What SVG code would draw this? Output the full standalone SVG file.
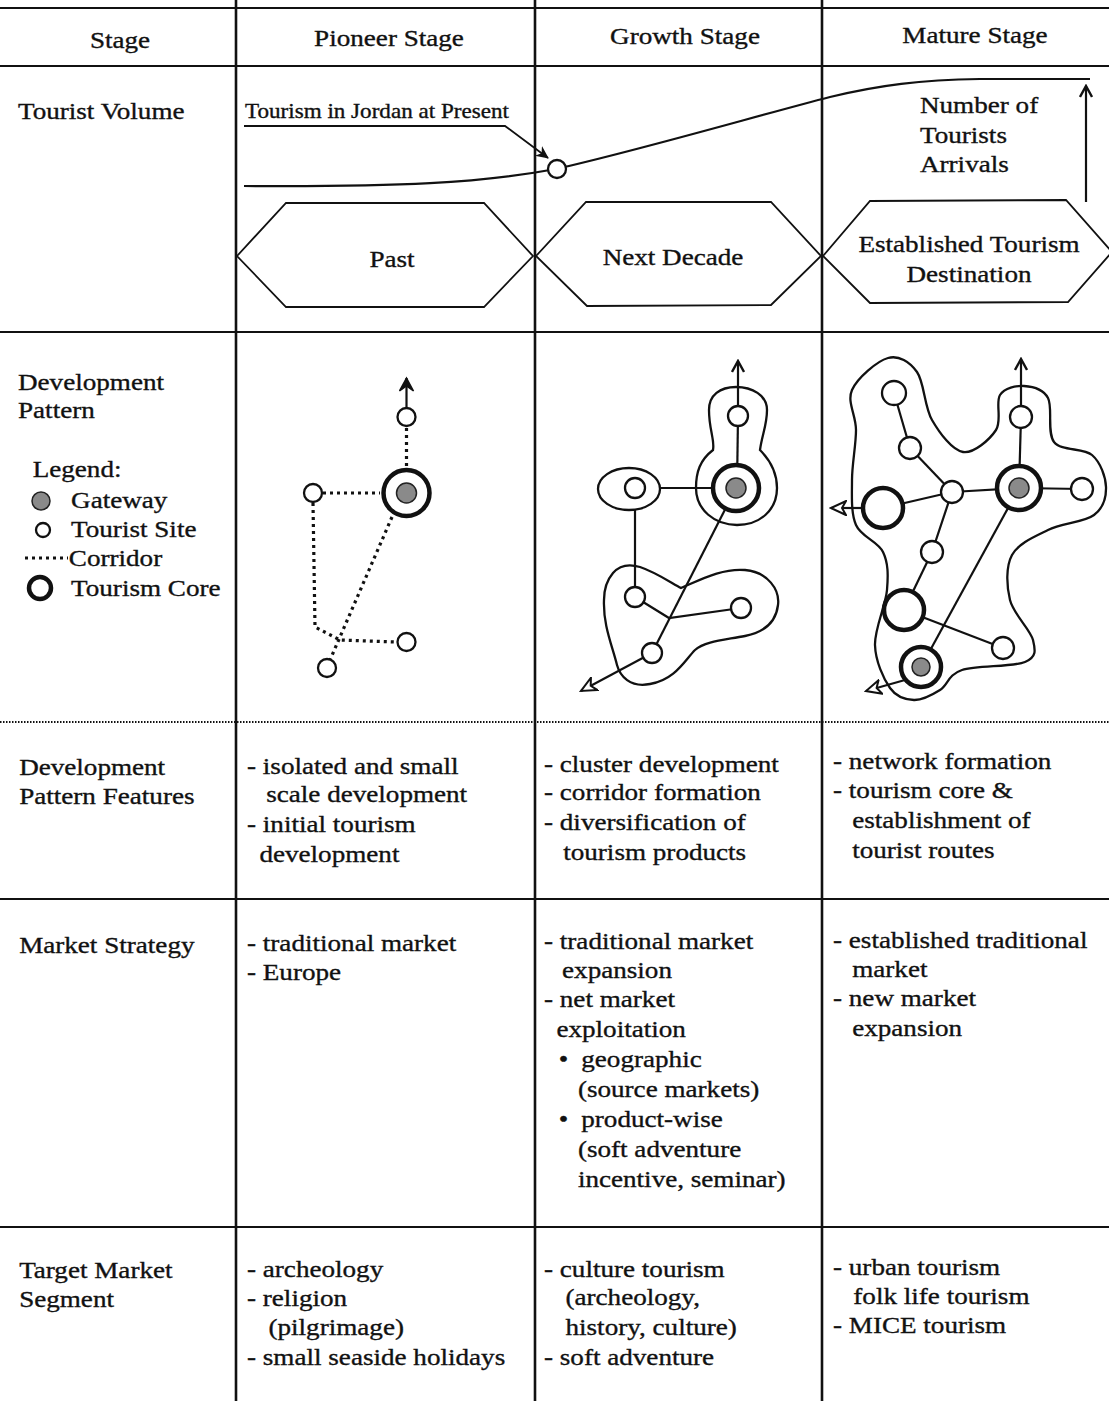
<svg xmlns="http://www.w3.org/2000/svg" width="1109" height="1401" viewBox="0 0 1109 1401">
<style>
text{font-family:"Liberation Serif","Times New Roman",serif;font-size:24px;fill:#111;stroke:#111;stroke-width:0.35}
.c{text-anchor:middle}
.rule{stroke:#111;stroke-width:1.8;fill:none}
.col{stroke:#111;stroke-width:2.6;fill:none}
.ln{stroke:#111;stroke-width:2.2;fill:none}
.thin{stroke:#111;stroke-width:1.8;fill:none}
.dot{stroke:#111;stroke-width:3.2;stroke-dasharray:3,4;fill:none}
.site{fill:#fff;stroke:#111;stroke-width:2.3}
.core{fill:#fff;stroke:#111;stroke-width:4.5}
.gate{fill:#8a8a8a;stroke:#222;stroke-width:1.5}
.blob{fill:none;stroke:#111;stroke-width:2.3}
.hex{fill:none;stroke:#111;stroke-width:1.8}
</style>
<defs>
<marker id="chev" viewBox="0 0 14 14" refX="12" refY="7" markerWidth="14" markerHeight="14" orient="auto" markerUnits="userSpaceOnUse"><path d="M1,1 L12,7 L1,13" fill="none" stroke="#111" stroke-width="2.4"/></marker>
<marker id="chevb" viewBox="0 0 16 16" refX="14" refY="8" markerWidth="16" markerHeight="16" orient="auto" markerUnits="userSpaceOnUse"><path d="M1,1 L14,8 L1,15 L6,8 Z" fill="#111" stroke="#111" stroke-width="1.5"/></marker>
<marker id="tri" viewBox="0 0 18 16" refX="16" refY="8" markerWidth="18" markerHeight="16" orient="auto" markerUnits="userSpaceOnUse"><path d="M1,1 L16,8 L1,15 L5,8 Z" fill="#fff" stroke="#111" stroke-width="2"/></marker>
<marker id="fill" viewBox="0 0 14 14" refX="12" refY="7" markerWidth="14" markerHeight="14" orient="auto" markerUnits="userSpaceOnUse"><path d="M0,1 L13,7 L0,13 L4,7 Z" fill="#111"/></marker>
</defs>
<rect width="1109" height="1401" fill="#fff"/>

<g id="grid">
<line class="rule" x1="0" y1="8" x2="1109" y2="8"/>
<line class="rule" x1="0" y1="66" x2="1109" y2="66"/>
<line class="rule" x1="0" y1="332" x2="1109" y2="332"/>
<line class="rule" x1="0" y1="722" x2="1109" y2="722" stroke-dasharray="1.5,1.5"/>
<line class="rule" x1="0" y1="899" x2="1109" y2="899"/>
<line class="rule" x1="0" y1="1227" x2="1109" y2="1227"/>
<line class="col" x1="236" y1="0" x2="236" y2="1401"/>
<line class="col" x1="535" y1="0" x2="535" y2="1401"/>
<line class="col" x1="822" y1="0" x2="822" y2="1401"/>
</g>

<g id="header">
<text class="c" transform="translate(120,48) scale(1.13,1)">Stage</text>
<text class="c" transform="translate(389,46) scale(1.13,1)">Pioneer Stage</text>
<text class="c" transform="translate(685,44) scale(1.13,1)">Growth Stage</text>
<text class="c" transform="translate(975,43) scale(1.13,1)">Mature Stage</text>
</g>

<g id="row-labels" transform="translate(18,0) scale(1.13,1)">
<text x="0" y="119">Tourist Volume</text>
<text x="0" y="390">Development</text>
<text x="0" y="418">Pattern</text>
<text x="13" y="477">Legend:</text>
<text x="47" y="508">Gateway</text>
<text x="47" y="537">Tourist Site</text>
<text x="45" y="566">Corridor</text>
<text x="47" y="596">Tourism Core</text>
<text x="1" y="775">Development</text>
<text x="1" y="804">Pattern Features</text>
<text x="1" y="953">Market Strategy</text>
<text x="1" y="1278">Target Market</text>
<text x="1" y="1307">Segment</text>
</g>

<g id="legend">
<circle class="gate" cx="41" cy="501" r="9" stroke-width="2.5"/>
<circle class="site" cx="43" cy="530" r="7"/>
<line class="dot" x1="25" y1="558" x2="68" y2="558" stroke-width="2.5" stroke-dasharray="2.5,3.5"/>
<circle class="core" cx="40" cy="588" r="11"/>
</g>

<g id="tourist-volume">
<path class="ln" d="M244,186 C400,187 480,183 556,169 C640,150 760,115 830,97 C880,85 920,80 980,79 L1090,79"/>
<path class="thin" d="M244,126 L505,126 L548,158" marker-end="url(#fill)"/>
<circle class="site" cx="557" cy="169" r="9"/>
<text transform="translate(245,118) scale(1.1,1)" style="font-size:21px">Tourism in Jordan at Present</text>
<text x="920" y="113" transform="translate(920,0) scale(1.13,1) translate(-920,0)">Number of</text>
<text x="920" y="143" transform="translate(920,0) scale(1.13,1) translate(-920,0)">Tourists</text>
<text x="920" y="172" transform="translate(920,0) scale(1.13,1) translate(-920,0)">Arrivals</text>
<line class="ln" x1="1086" y1="202" x2="1086" y2="86" marker-end="url(#chev)"/>
</g>

<g id="phase-past">
<polygon class="hex" points="237,256 286,203 484,203 533,256 484,307 286,307"/>
<text class="c" transform="translate(392,267) scale(1.13,1)">Past</text>
</g>
<g id="phase-next">
<polygon class="hex" points="536,256 586,202 771,202 821,256 771,305 587,306"/>
<text class="c" transform="translate(673,265) scale(1.13,1)">Next Decade</text>
</g>
<g id="phase-established">
<polygon class="hex" points="823,256 870,201 1066,200 1112,252 1068,302 870,303"/>
<text class="c" transform="translate(969,252) scale(1.13,1)">Established Tourism</text>
<text class="c" transform="translate(969,282) scale(1.13,1)">Destination</text>
</g>

<g id="pattern-pioneer">
<g id="pioneer-connectors">
<line class="ln" x1="406.5" y1="407" x2="406.5" y2="378" stroke-width="2.6" marker-end="url(#chevb)"/>
<line class="dot" x1="406.5" y1="428" x2="406.5" y2="466"/>
<line class="dot" x1="323" y1="493" x2="380" y2="493"/>
<polyline class="dot" points="313,503 315,627 340,640 396,642"/>
<line class="dot" x1="392" y1="517" x2="330" y2="660"/>
</g>
<circle class="site" cx="406.5" cy="417" r="9"/>
<circle class="site" cx="313" cy="493" r="9"/>
<circle class="site" cx="406.5" cy="642" r="9"/>
<circle class="site" cx="327" cy="668" r="9"/>
<circle class="core" cx="406.5" cy="493" r="23"/>
<circle class="gate" cx="406.5" cy="493" r="10"/>
</g>

<g id="pattern-growth">
<path class="blob" d="M736,387 C720,387 709,395 709,410 C709,430 715,440 713,450 C700,460 696,472 696,488 C696,510 715,525 737,525 C760,525 777,510 777,488 C777,470 768,458 760,450 C762,435 767,425 767,410 C767,395 752,387 736,387 Z"/>
<ellipse class="blob" cx="629" cy="489" rx="31" ry="21"/>
<path class="blob" d="M613,573 C620,565 630,564 640,567 C655,572 670,582 681,588 C700,580 722,568 745,570 C768,572 780,590 778,605 C776,622 765,632 745,636 C725,640 705,641 695,650 C685,660 675,680 650,684 C630,688 620,676 617,665 C612,645 603,625 604,600 C604,588 607,580 613,573 Z"/>
<g id="growth-connectors">
<line class="ln" x1="738" y1="406" x2="738" y2="361" marker-end="url(#chev)"/>
<line class="ln" x1="738" y1="416" x2="737" y2="488"/>
<line class="ln" x1="661" y1="488" x2="736" y2="488"/>
<line class="ln" x1="635" y1="510" x2="635" y2="597"/>
<polyline class="ln" points="635,597 669,618 741,608"/>
<line class="ln" x1="736" y1="488" x2="652" y2="653" stroke-width="3"/>
<line class="ln" x1="652" y1="653" x2="581" y2="691" marker-end="url(#tri)"/>
</g>
<circle class="site" cx="738" cy="416" r="10"/>
<circle class="core" cx="736" cy="488" r="23"/>
<circle class="gate" cx="736" cy="488" r="10"/>
<circle class="site" cx="635" cy="488" r="10"/>
<circle class="site" cx="635" cy="597" r="10"/>
<circle class="site" cx="741" cy="608" r="10"/>
<circle class="site" cx="652" cy="653" r="10"/>
</g>

<g id="pattern-mature">
<path class="blob" d="M852,390 C857.3,378 877.2,361 888,358 C898.8,355 909.7,361.7 917,372 C924.3,382.3 924.3,406.7 932,420 C939.7,433.3 952.3,450.3 963,452 C973.7,453.7 989.8,439.5 996,430 C1002.2,420.5 995.3,402.3 1000,395 C1004.7,387.7 1016,385.5 1024,386 C1032,386.5 1043,388.7 1048,398 C1053,407.3 1046.7,432.5 1054,442 C1061.3,451.5 1083.3,447.5 1092,455 C1100.7,462.5 1105.7,477 1106,487 C1106.3,497 1103.7,507.8 1094,515 C1084.3,522.2 1061.7,523.3 1048,530 C1034.3,536.7 1018.3,543.3 1012,555 C1005.7,566.7 1006.5,585.8 1010,600 C1013.5,614.2 1030.5,629.7 1033,640 C1035.5,650.3 1036.8,657 1025,662 C1013.2,667 976.2,665.3 962,670 C947.8,674.7 948,685 940,690 C932,695 922.3,700.3 914,700 C905.7,699.7 896.5,697.2 890,688 C883.5,678.8 875.5,661.3 875,645 C874.5,628.7 885.7,605.5 887,590 C888.3,574.5 888.2,562.8 883,552 C877.8,541.2 861.2,537 856,525 C850.8,513 852,495.8 852,480 C852,464.2 856,445 856,430 C856,415 846.7,402 852,390 Z"/>
<g id="mature-connectors">
<line class="ln" x1="1021" y1="406" x2="1021" y2="359" marker-end="url(#chev)"/>
<line class="ln" x1="1021" y1="417" x2="1019" y2="488"/>
<line class="ln" x1="1019" y1="488" x2="1082" y2="489"/>
<line class="ln" x1="894" y1="393" x2="910" y2="448"/>
<line class="ln" x1="910" y1="448" x2="952" y2="492"/>
<line class="ln" x1="952" y1="492" x2="1019" y2="488"/>
<line class="ln" x1="952" y1="492" x2="883" y2="508"/>
<line class="ln" x1="952" y1="492" x2="932" y2="552"/>
<line class="ln" x1="932" y1="552" x2="904" y2="610"/>
<line class="ln" x1="904" y1="610" x2="1003" y2="648"/>
<line class="ln" x1="1019" y1="488" x2="921" y2="667" stroke-width="3"/>
<line class="ln" x1="862" y1="508" x2="831" y2="508" marker-end="url(#tri)"/>
<line class="ln" x1="905" y1="680" x2="866" y2="691" marker-end="url(#tri)"/>
</g>
<circle class="site" cx="894" cy="393" r="12"/>
<circle class="site" cx="910" cy="448" r="11"/>
<circle class="site" cx="952" cy="492" r="11"/>
<circle class="site" cx="1021" cy="417" r="11"/>
<circle class="site" cx="1082" cy="489" r="11"/>
<circle class="site" cx="932" cy="552" r="11"/>
<circle class="site" cx="1003" cy="648" r="11"/>
<circle class="core" cx="883" cy="508" r="20"/>
<circle class="core" cx="904" cy="610" r="20"/>
<circle class="core" cx="1019" cy="488" r="22"/>
<circle class="gate" cx="1019" cy="488" r="10"/>
<circle class="core" cx="921" cy="667" r="20"/>
<circle class="gate" cx="921" cy="667" r="9"/>
</g>

<g id="pioneer-text" transform="translate(247,0) scale(1.13,1)">
<text x="0" y="774">- isolated and small</text>
<text x="17" y="802">scale development</text>
<text x="0" y="832">- initial tourism</text>
<text x="11" y="862">development</text>
<text x="0" y="951">- traditional market</text>
<text x="0" y="980">- Europe</text>
<text x="0" y="1277">- archeology</text>
<text x="0" y="1306">- religion</text>
<text x="19" y="1335">(pilgrimage)</text>
<text x="0" y="1365">- small seaside holidays</text>
</g>

<g id="growth-text" transform="translate(544,0) scale(1.13,1)">
<text x="0" y="772">- cluster development</text>
<text x="0" y="800">- corridor formation</text>
<text x="0" y="830">- diversification of</text>
<text x="17" y="860">tourism products</text>
<text x="0" y="949">- traditional market</text>
<text x="16" y="978">expansion</text>
<text x="0" y="1007">- net market</text>
<text x="11" y="1037">exploitation</text>
<text x="13" y="1067">•</text>
<text x="33" y="1067">geographic</text>
<text x="30" y="1097">(source markets)</text>
<text x="13" y="1127">•</text>
<text x="33" y="1127">product-wise</text>
<text x="30" y="1157">(soft adventure</text>
<text x="30" y="1187">incentive, seminar)</text>
<text x="0" y="1277">- culture tourism</text>
<text x="19" y="1305">(archeology,</text>
<text x="19" y="1335">history, culture)</text>
<text x="0" y="1365">- soft adventure</text>
</g>

<g id="mature-text" transform="translate(833,0) scale(1.13,1)">
<text x="0" y="769">- network formation</text>
<text x="0" y="798">- tourism core &amp;</text>
<text x="17" y="828">establishment of</text>
<text x="17" y="858">tourist routes</text>
<text x="0" y="948">- established traditional</text>
<text x="17" y="977">market</text>
<text x="0" y="1006">- new market</text>
<text x="17" y="1036">expansion</text>
<text x="0" y="1275">- urban tourism</text>
<text x="18" y="1304">folk life tourism</text>
<text x="0" y="1333">- MICE tourism</text>
</g>
</svg>
